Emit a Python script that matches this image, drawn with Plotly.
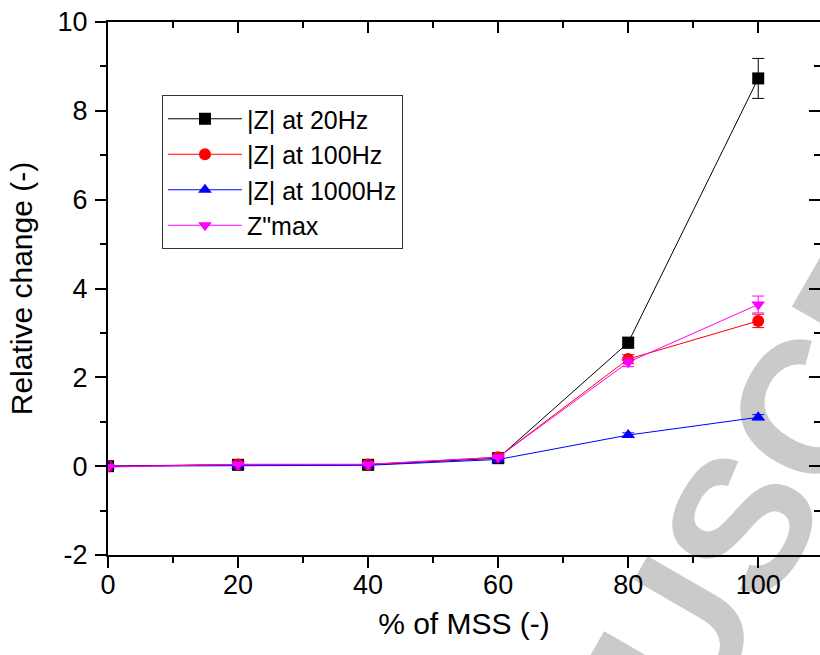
import plotly.graph_objects as go

mss = [0, 20, 40, 60, 80, 100]
z20 = [0.0, 0.03, 0.03, 0.18, 2.78, 8.73]
z20_err = [0.0, 0.02, 0.02, 0.03, 0.12, 0.45]
z100 = [0.0, 0.04, 0.04, 0.20, 2.41, 3.27]
z100_err = [0.0, 0.02, 0.02, 0.03, 0.10, 0.15]
z1000 = [0.0, 0.01, 0.02, 0.15, 0.70, 1.10]
z1000_err = [0.0, 0.01, 0.01, 0.02, 0.05, 0.06]
zmax = [-0.02, 0.04, 0.04, 0.20, 2.34, 3.64]
zmax_err = [0.0, 0.02, 0.02, 0.03, 0.10, 0.19]

names = ["|Z| at 20Hz", "|Z| at 100Hz", "|Z| at 1000Hz", "Z\"max"]
colors = ["#000000", "#FF0000", "#0000FF", "#FF00FF"]
symbols = ["square", "circle", "triangle-up", "triangle-down"]
series = [z20, z100, z1000, zmax]
errs = [z20_err, z100_err, z1000_err, zmax_err]

x_ticks = [0, 20, 40, 60, 80, 100]
x_ticktext = ["0", "20", "40", "60", "80", "100"]
y_ticks = [-2, 0, 2, 4, 6, 8, 10]
y_ticktext = ["-2", "0", "2", "4", "6", "8", "10"]
watermark = "ACCEPTED MANUSCRIPT"

fig = go.Figure()
for nm, c, s, y, e in zip(names, colors, symbols, series, errs):
    fig.add_trace(go.Scatter(
        x=mss, y=y, name=nm, mode="lines+markers",
        line=dict(color=c, width=1),
        marker=dict(symbol=s, size=12, color=c),
        error_y=dict(type="data", array=e, visible=True, color=c, thickness=1, width=6),
    ))

# empty trace to activate mirrored (top/right) axes
fig.add_trace(go.Scatter(x=[], y=[], xaxis="x2", yaxis="y2", showlegend=False, hoverinfo="skip"))

font = "Liberation Sans, Arial, sans-serif"
xr = [0, 109.5]
yr = [-2, 10]
fig.update_layout(
    width=820, height=655,
    margin=dict(l=108, r=0, t=22, b=100),
    paper_bgcolor="white", plot_bgcolor="white",
    font=dict(family=font, color="black"),
    showlegend=True,
    legend=dict(
        x=0.0758, y=0.863, xanchor="left", yanchor="top",
        bgcolor="white", bordercolor="#333333", borderwidth=1,
        font=dict(size=25, family=font), itemwidth=74, tracegroupgap=0,
    ),
    xaxis=dict(
        range=xr, showgrid=False, zeroline=False, showline=True, linecolor="black", linewidth=2,
        ticks="outside", tickwidth=2, ticklen=11, tickcolor="black",
        tickvals=x_ticks, ticktext=x_ticktext, ticklabelstandoff=-6,
        tickfont=dict(size=27), minor=dict(dtick=10, tick0=0, ticks="outside", ticklen=6, tickwidth=2, tickcolor="black"),
        title=dict(text="% of MSS (-)", font=dict(size=30), standoff=14),
    ),
    yaxis=dict(
        range=yr, showgrid=False, zeroline=False, showline=True, linecolor="black", linewidth=2,
        ticks="outside", tickwidth=2, ticklen=11, tickcolor="black",
        tickvals=y_ticks, ticktext=y_ticktext, tickfont=dict(size=27), ticklabelstandoff=2,
        minor=dict(dtick=1, tick0=0, ticks="outside", ticklen=6, tickwidth=2, tickcolor="black"),
        title=dict(text="Relative change (-)", font=dict(size=30), standoff=16),
    ),
    xaxis2=dict(
        range=xr, overlaying="x", side="top", anchor="y2", showgrid=False, zeroline=False,
        showline=True, linecolor="black", linewidth=2, ticks="inside", ticklen=11, tickwidth=2,
        tickcolor="black", tickvals=x_ticks, showticklabels=False,
        minor=dict(dtick=10, tick0=0, ticks="inside", ticklen=6, tickwidth=2, tickcolor="black"),
    ),
    yaxis2=dict(
        range=yr, overlaying="y", side="right", anchor="x2", showgrid=False, zeroline=False,
        showline=True, linecolor="black", linewidth=2, ticks="inside", ticklen=11, tickwidth=2,
        tickcolor="black", tickvals=y_ticks, showticklabels=False,
        minor=dict(dtick=1, tick0=0, ticks="inside", ticklen=6, tickwidth=2, tickcolor="black"),
    ),
    shapes=[dict(
        type="rect", xref="paper", yref="paper", x0=0.472, x1=0.492, y0=-0.826, y1=-0.806,
        layer="below", line=dict(width=0, color="rgba(0,0,0,0)"), fillcolor="rgba(0,0,0,0)",
        label=dict(text=watermark, textangle=-60, textposition="middle center",
                   font=dict(size=190, color="#cacaca", family=font, weight="bold")),
    )],
)

fig.write_html(
    "out.html",
    config={"displayModeBar": False},
    post_script="document.body.style.margin='0px';document.body.style.overflow='hidden';",
)
